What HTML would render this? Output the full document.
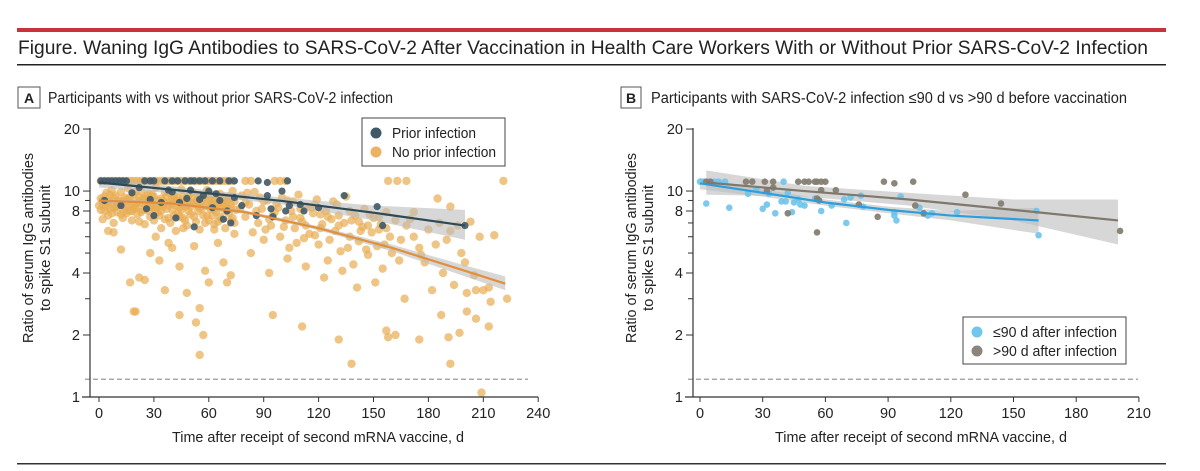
<!DOCTYPE html>
<html><head><meta charset="utf-8">
<style>
html,body{margin:0;padding:0;background:#fff;}
body{width:1200px;height:466px;overflow:hidden;position:relative;font-family:"Liberation Sans",sans-serif;}
svg text{font-family:"Liberation Sans",sans-serif;fill:#222;}
</style></head>
<body>
<svg id="fig" width="1200" height="466" viewBox="0 0 1200 466">
  <rect x="17" y="28" width="1149" height="4" fill="#c8323c"/>
  <text x="18" y="54" font-size="19" textLength="1130" lengthAdjust="spacingAndGlyphs">Figure. Waning IgG Antibodies to SARS-CoV-2 After Vaccination in Health Care Workers With or Without Prior SARS-CoV-2 Infection</text>
  <rect x="17" y="64" width="1149" height="1.5" fill="#222"/>
  <rect x="17" y="463" width="1149" height="1.5" fill="#333"/>
  <g>
    <rect x="18" y="87" width="22" height="21" fill="#fff" stroke="#555"/>
    <text x="29" y="103" font-size="14" font-weight="bold" text-anchor="middle">A</text>
    <text x="48" y="103" font-size="15.5" textLength="345" lengthAdjust="spacingAndGlyphs">Participants with vs without prior SARS-CoV-2 infection</text>
  </g>
  <g>
    <rect x="621" y="87" width="20" height="21" fill="#fff" stroke="#555"/>
    <text x="631" y="103" font-size="14" font-weight="bold" text-anchor="middle">B</text>
    <text x="651" y="103" font-size="15.5" textLength="476" lengthAdjust="spacingAndGlyphs">Participants with SARS-CoV-2 infection ≤90 d vs &gt;90 d before vaccination</text>
  </g>
  <g id="pa"></g>
  <g id="pb"></g>
</svg>
<script>
// ---- Panel A data ----
const aNoPriorPts = "1 9.2,2 8.6,3 8.0,4 9.8,5 7.6,6 8.9,7 10.1,8 8.3,9 9.5,10 7.9,11 8.7,12 9.9,13 7.4,14 8.4,15 9.1,16 10.3,17 8.0,18 7.2,19 9.6,20 8.5,21 7.7,22 9.3,23 10.0,24 8.1,25 6.9,26 8.8,27 9.7,28 7.5,29 8.3,30 9.4,31 10.4,32 7.9,33 8.6,34 6.6,35 9.0,36 7.3,37 8.2,38 9.8,39 7.0,40 8.7,41 9.5,42 6.4,43 7.8,44 8.9,45 10.2,46 7.4,47 8.4,48 6.8,49 9.1,50 7.7,51 8.8,52 9.6,53 7.1,54 8.0,55 6.5,56 9.3,57 7.6,58 8.5,59 10.1,60 7.2,61 8.2,62 9.0,63 6.9,64 7.9,65 8.7,66 9.7,67 7.3,68 8.4,69 6.6,70 9.2,71 7.8,72 8.6,73 10.0,74 7.0,75 8.1,"+
"1 8.1,3 9.4,5 8.8,7 7.8,9 8.4,11 9.0,13 8.9,15 7.8,17 9.3,19 8.2,21 8.9,23 7.9,25 9.1,27 8.0,29 9.6,31 8.1,33 7.6,35 8.4,37 9.4,39 8.9,41 7.6,43 9.3,45 8.1,47 7.2,49 8.0,51 9.9,53 8.8,55 8.3,57 9.5,59 7.6,61 9.6,63 8.1,65 7.1,67 9.0,69 8.0,71 9.4,73 7.4,"+
"2 7.3,4 8.4,6 9.6,8 7.0,10 8.9,12 7.7,14 9.3,16 8.6,18 8.0,20 9.9,22 7.1,24 8.7,26 9.5,28 8.4,30 7.2,32 9.0,34 8.0,36 9.9,38 7.4,40 8.1,42 9.0,44 7.5,46 9.4,48 8.6,50 9.8,52 7.5,54 9.2,56 8.2,58 7.0,60 9.1,62 7.6,64 8.5,66 7.5,68 9.4,70 8.3,72 7.2,74 8.9,"+
"0 8.5,2 9.0,4 8.9,6 8.2,8 9.3,10 8.5,12 8.8,14 8.0,16 9.0,18 8.7,20 8.3,22 8.8,24 9.2,26 8.3,28 8.9,30 8.6,32 8.4,34 9.2,36 8.7,38 8.5,40 9.2,42 8.5,44 8.3,46 8.7,48 9.3,50 8.4,52 8.7,54 8.5,56 8.8,58 9.2,60 8.4,62 8.7,64 9.2,66 8.3,68 8.7,70 8.9,72 8.2,"+
"1 11.2,3 11.2,5 11.2,7 11.2,9 11.2,11 11.2,13 11.2,15 11.2,17 11.2,19 11.2,21 11.2,23 11.2,25 11.2,27 11.2,29 11.2,31 11.2,33 11.2,35 11.2,37 11.2,39 11.2,41 11.2,43 11.2,45 11.2,47 11.2,49 11.2,51 11.2,53 11.2,55 11.2,57 11.2,59 11.2,61 11.2,63 11.2,65 11.2,67 11.2,69 11.2,71 11.2,73 11.2,80 11.2,83 11.2,96 11.2,99 11.2,102 11.2,158 11.2,163 11.2,168 11.2,221 11.2,"+
"78 9.5,80 7.5,82 8.6,84 6.3,85 9.9,87 7.0,89 8.2,90 5.8,92 9.0,94 6.8,95 7.6,97 8.7,99 6.0,100 9.3,102 7.2,104 5.3,105 8.0,107 6.6,109 9.6,110 7.4,112 5.9,114 8.4,115 6.2,117 7.8,119 9.1,120 5.5,122 6.9,124 8.0,125 4.6,127 7.3,129 6.4,130 8.6,132 5.1,134 7.0,135 9.4,137 6.0,139 4.4,140 7.6,142 5.7,144 6.7,145 8.2,147 4.9,149 6.3,150 7.4,152 5.4,154 6.9,155 4.2,157 7.9,159 6.0,160 5.0,"+
"80 8.8,83 5.0,88 9.3,91 6.5,93 4.0,96 7.9,101 6.7,103 4.7,106 8.9,108 5.6,111 7.1,113 4.3,116 8.3,118 6.1,121 7.7,123 3.8,126 5.8,128 8.9,131 6.8,133 4.1,136 5.3,138 7.2,141 3.4,143 6.4,146 5.2,148 7.7,151 3.6,153 6.5,156 5.5,"+
"77 8.2,81 9.8,86 8.0,90 8.9,93 7.3,98 8.3,103 9.0,106 7.5,110 8.2,113 6.8,118 8.6,121 6.6,125 7.5,131 7.6,137 8.0,142 7.1,147 6.8,153 7.5,157 6.6,"+
"5 6.4,8 6.3,12 5.2,17 3.6,20 2.6,22 3.8,25 3.7,28 5.0,31 6.0,33 4.6,36 3.3,38 5.6,40 5.3,44 4.3,46 6.6,48 3.2,52 5.4,55 2.7,58 4.1,60 3.6,63 6.5,65 5.6,68 4.5,70 3.6,72 3.9,74 6.2,"+
"55 1.6,19 2.6,44 2.5,53 2.3,57 2.0,95 2.5,111 2.2,131 1.9,138 1.45,157 2.1,158 1.95,162 2.0,175 1.9,187 2.5,191 1.95,192 1.45,197 2.05,201 2.6,206 2.4,213 2.2,209 1.05,223 3.0,"+
"170 7.3,172 6.0,175 5.3,178 4.5,180 6.5,182 3.3,185 9.2,186 7.0,188 4.0,190 5.8,192 6.4,194 3.5,196 6.8,198 5.0,200 4.5,201 3.2,203 7.1,205 3.9,206 3.3,208 6.0,210 3.3,213 3.4,214 2.9,216 6.1,192 8.4,165 5.8,167 3.0,168 6.8,176 4.9,162 7.2,164 4.6,172 7.9,184 5.5,";
const aPriorPts = "1 11.2,3 11.2,5 11.2,7 11.2,9 11.2,11 11.2,13 11.2,15 11.2,25 11.2,28 11.2,30 11.2,36 11.2,40 11.2,43 11.2,47 11.2,50 11.2,52 11.2,55 11.2,58 11.2,62 11.2,66 11.2,71 11.2,74 11.2,87 11.2,92 11.0,103 11.2,"+
"3 9.0,12 8.5,18 9.8,22 10.4,26 8.2,28 9.1,30 7.6,34 8.8,38 10.1,40 9.9,42 7.4,44 8.8,48 9.2,50 10.1,52 6.7,55 9.1,57 9.5,60 10.0,62 8.3,64 9.7,66 9.0,68 7.3,70 8.0,72 7.0,74 9.3,78 8.5,86 7.6,92 9.5,94 8.2,95 7.5,100 10.0,102 8.0,104 8.5,110 8.6,112 8.0,120 8.3,134 9.5,152 8.4,155 6.8,200 6.8";
const aPriorFitX = [0, 50, 100, 150, 200];
const aPriorFitY = [11.0, 9.95, 8.95, 7.85, 6.8];
const aPriorLo = [10.4, 9.6, 8.6, 7.2, 5.8];
const aPriorHi = [11.6, 10.3, 9.3, 8.5, 8.1];
const aNoFitX = [0, 40, 80, 120, 160, 200, 222];
const aNoFitY = [9.0, 8.7, 7.9, 6.6, 5.3, 4.1, 3.55];
const aNoLo = [8.8, 8.55, 7.75, 6.45, 5.1, 3.85, 3.3];
const aNoHi = [9.2, 8.85, 8.05, 6.75, 5.5, 4.35, 3.85];
// ---- Panel B data ----
const bLe90Pts = "0 11.1,2 11.1,4 11.1,7 11.1,9 11.1,12 11.1,3 8.7,14 8.3,23 9.7,27 10.2,30 8.2,32 8.6,33 9.7,36 7.8,39 8.9,40 11.1,41 8.9,42 9.8,44 7.9,45 8.8,47 9.1,48 8.6,50 8.5,55 9.2,58 8.0,63 8.5,69 9.1,70 7.0,72 9.3,77 9.5,78 8.4,93 7.9,93 7.6,94 7.2,96 9.4,105 8.3,109 7.6,111 7.8,123 7.9,161 8.0,162 6.1";
const bGt90Pts = "3 11.1,5 11.1,22 11.1,25 11.1,31 11.1,32 10.0,35 11.1,35 10.4,47 11.1,50 11.1,52 11.1,55 11.1,56 11.1,58 11.1,60 11.1,58 10.1,65 10.1,56 9.2,57 9.0,42 7.8,56 6.3,76 8.6,85 7.5,88 11.1,93 10.9,102 11.1,103 8.5,107 7.8,127 9.6,144 8.7,201 6.4";
const bLeFitX = [0, 30, 60, 90, 120, 162];
const bLeFitY = [10.9, 9.8, 8.8, 8.1, 7.6, 7.2];
const bLeLo = [10.2, 9.4, 8.5, 7.8, 7.2, 6.2];
const bLeHi = [11.6, 10.2, 9.1, 8.4, 8.0, 8.3];
const bGtFitX = [3, 50, 100, 150, 200];
const bGtFitY = [11.0, 10.0, 9.1, 8.1, 7.2];
const bGtLo = [9.6, 9.4, 8.5, 7.2, 5.5];
const bGtHi = [12.6, 10.6, 9.8, 9.1, 9.1];
const yTickVals = [1,2,3,4,5,6,7,8,9,10,20];
const yTickLabels = ["1","2","","4","","","","8","","10","20"];
const aXTicks = [0,30,60,90,120,150,180,210,240];
const bXTicks = [0,30,60,90,120,150,180,210];
const threshold = 1.22;

const NS = "http://www.w3.org/2000/svg";
function parse(s){return s.split(",").filter(t=>t.trim()).map(t=>t.trim().split(" ").map(Number));}
function mk(tag, attrs, parent){const e=document.createElementNS(NS,tag);for(const k in attrs)e.setAttribute(k,attrs[k]);parent.appendChild(e);return e;}

function panel(g, o){
  const Y1=397, PPD=62;
  const ys = v => Y1 - Math.log2(v)*PPD;
  const xs = d => o.x0 + d*o.k;
  function band(X,lo,hi,name){
    let p = X.map((d,i)=>xs(d)+","+ys(hi[i])).join(" ")+" "+X.slice().reverse().map((d,i)=>xs(d)+","+ys(lo[lo.length-1-i])).join(" ");
    const e=mk("polygon",{points:p,fill:"#bdbdbd","fill-opacity":"0.6"},g);
    
    
  }
  function line(X,Y,col,name){
    const e=mk("polyline",{points:X.map((d,i)=>xs(d)+","+ys(Y[i])).join(" "),fill:"none",stroke:col,"stroke-width":2.2},g);
    
    
  }
  function pts(arr,col,op,r,name){
    const gg=mk("g",{},g);
    
    
    arr.forEach(p=>{
      const c=mk("circle",{cx:xs(p[0]),cy:ys(p[1]),r:r,fill:col,"fill-opacity":op},gg);
      
      
    });
  }
  const th=mk("line",{x1:o.ax-5,x2:o.xEnd,y1:ys(threshold),y2:ys(threshold),stroke:"#999","stroke-dasharray":"5,3","stroke-width":1.2},g);
  
  
  o.draw(pts,band,line);
  const ya=mk("line",{x1:o.ax,x2:o.ax,y1:128,y2:Y1,stroke:"#333","stroke-width":1.2},g);
  
  
  const xa=mk("line",{x1:o.ax-8,x2:xs(o.xt[o.xt.length-1]),y1:Y1,y2:Y1,stroke:"#333","stroke-width":1.2},g);
  
  
  yTickVals.forEach((v,i)=>{
    const lab=yTickLabels[i];
    const t=mk("line",{x1:o.ax-(lab?7:5),x2:o.ax,y1:ys(v),y2:ys(v),stroke:"#333","stroke-width":1},g);
    
    
    if(lab){
      const tx=mk("text",{x:o.ax-10,y:ys(v)+5,"font-size":14.5,"text-anchor":"end"},g);
      tx.textContent=lab;
      
      
    }
  });
  o.xt.forEach(d=>{
    const t=mk("line",{x1:xs(d),x2:xs(d),y1:Y1,y2:Y1+5,stroke:"#333","stroke-width":1},g);
    
    
    const tx=mk("text",{x:xs(d),y:418,"font-size":14.5,"text-anchor":"middle"},g);
    tx.textContent=d;
    
    
  });
  const xt=mk("text",{x:o.xtc-146,y:442,"font-size":15,textLength:292,lengthAdjust:"spacingAndGlyphs"},g);
  xt.textContent="Time after receipt of second mRNA vaccine, d";
  
  
  const yt=mk("text",{transform:`translate(${o.ytx},248) rotate(-90)`,"font-size":15},g);
  
  
  const t1=mk("tspan",{x:-95,y:0,textLength:190,lengthAdjust:"spacingAndGlyphs"},yt);t1.textContent="Ratio of serum IgG antibodies";
  const t2=mk("tspan",{x:-63,y:17,textLength:126,lengthAdjust:"spacingAndGlyphs"},yt);t2.textContent="to spike S1 subunit";
  const L=o.leg;
  const lg=mk("g",{},g);
  
  
  mk("rect",{x:L.x,y:L.y,width:L.w,height:L.h,fill:"#fff",stroke:"#444","stroke-width":1},lg);
  L.items.forEach((it,i)=>{
    const cy=L.y+15+i*19;
    const c=mk("circle",{cx:L.x+14,cy:cy,r:5.5,fill:it[1]},lg);
    
    
    const tx=mk("text",{x:L.x+30,y:cy+5,"font-size":14.5,textLength:it[2],lengthAdjust:"spacingAndGlyphs"},lg);
    tx.textContent=it[0];
    
    
  });
}

panel(document.getElementById("pa"),{
  x0:99,k:1.83,ax:90,xEnd:528,xt:aXTicks,xtc:318,ytx:33,
  leg:{x:362,y:118,w:143,h:48,items:[["Prior infection","#3f5968",84],["No prior infection","#eab262",104]]},
  draw:(pts,band,line)=>{
    pts(parse(aNoPriorPts),"#e8ad52",0.7,4.2,"no-prior-infection-points");
    band(aPriorFitX,aPriorLo,aPriorHi,"prior-ci-band");
    band(aNoFitX,aNoLo,aNoHi,"no-prior-ci-band");
    pts(parse(aPriorPts),"#3f5968",0.9,3.6,"prior-infection-points");
    line(aNoFitX,aNoFitY,"#e38f3a","no-prior-fit-line");
    line(aPriorFitX,aPriorFitY,"#2f4a57","prior-fit-line");
  }
});
panel(document.getElementById("pb"),{
  x0:700,k:2.09,ax:693,xEnd:1138,xt:bXTicks,xtc:921,ytx:636,
  leg:{x:963,y:317,w:163,h:47,items:[["≤90 d after infection","#72c6ee",124],[">90 d after infection","#8c857b",124]]},
  draw:(pts,band,line)=>{
    band(bGtFitX,bGtLo,bGtHi,"gt90-ci-band");
    band(bLeFitX,bLeLo,bLeHi,"le90-ci-band");
    pts(parse(bLe90Pts),"#6ec3ec",0.9,3.3,"le90-points");
    pts(parse(bGt90Pts),"#857e73",0.95,3.3,"gt90-points");
    line(bLeFitX,bLeFitY,"#2b9fdd","le90-fit-line");
    line(bGtFitX,bGtFitY,"#7e786d","gt90-fit-line");
  }
});
</script>
</body></html>
